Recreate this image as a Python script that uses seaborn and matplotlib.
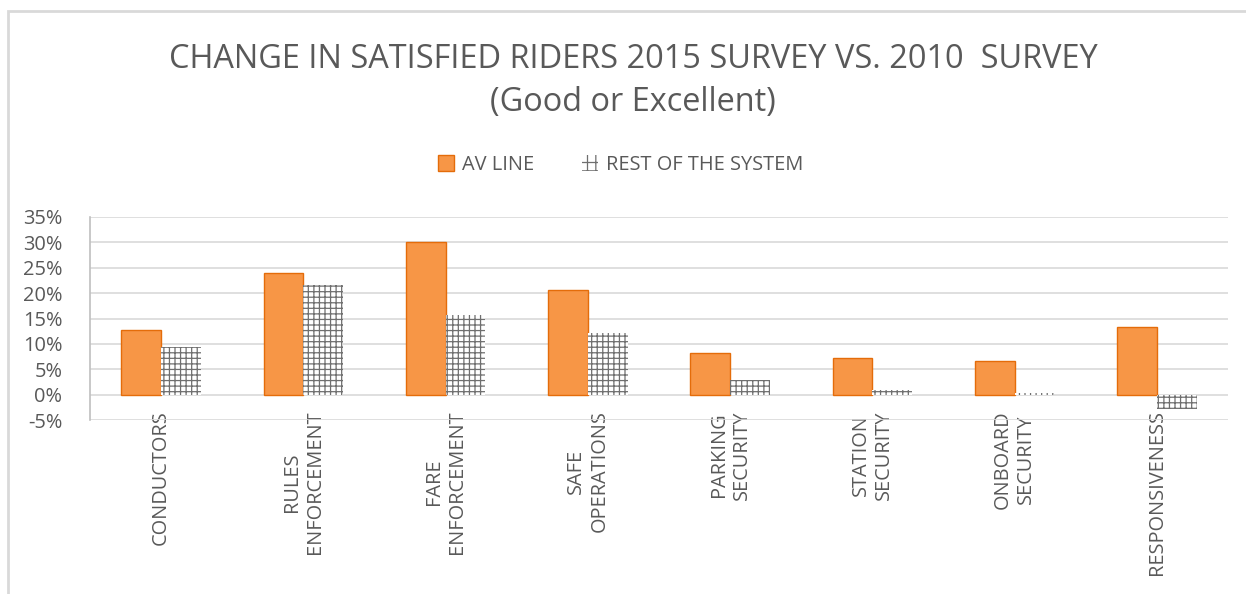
import matplotlib
matplotlib.use("Agg")
from matplotlib import pyplot as plt
from matplotlib.patches import Rectangle
import pandas as pd
import seaborn as sns

categories = ["CONDUCTORS", "RULES\nENFORCEMENT", "FARE\nENFORCEMENT", "SAFE\nOPERATIONS",
              "PARKING\nSECURITY", "STATION\nSECURITY", "ONBOARD\nSECURITY", "RESPONSIVENESS"]
series = ["AV LINE", "REST OF THE SYSTEM"]
av_line = [12.8, 23.9, 30.0, 20.6, 8.3, 7.2, 6.7, 13.3]
rest_of_system = [9.3, 21.6, 15.6, 12.2, 2.9, 1.0, 0.3, -2.8]
y_ticks = [-5, 0, 5, 10, 15, 20, 25, 30, 35]

df = pd.DataFrame({
    "category": categories * 2,
    "series": [series[0]] * len(categories) + [series[1]] * len(categories),
    "value": av_line + rest_of_system,
})

sns.set_theme(style="white")
plt.rcParams['font.family'] = ['Open Sans', 'DejaVu Sans']
plt.rcParams['hatch.linewidth'] = 0.9
grey_txt = "#595959"

fig = plt.figure(figsize=(12.46, 5.94), dpi=100)
ax = fig.add_axes([90 / 1246, 1 - 420 / 594, (1228 - 90) / 1246, (420 - 217) / 594])

sns.barplot(data=df, x="category", y="value", hue="series", order=categories,
            hue_order=series, palette=["#F79646", "white"], width=0.56,
            saturation=1, ax=ax, zorder=3)

n = len(categories)
for i, bar in enumerate(ax.patches[:2 * n]):
    if i < n:
        bar.set_edgecolor("#E46C0A")
        bar.set_linewidth(1.0)
    else:
        bar.set_facecolor("white")
        bar.set_edgecolor("#6F6F6F")
        bar.set_linewidth(0)
        bar.set_hatch("+++")

ax.set_ylim(-5, 35)
ax.set_yticks(y_ticks)
ax.set_yticklabels([f"{t}%" for t in y_ticks], fontsize=14.4, color=grey_txt)
ax.set_xlim(-0.5, n - 0.5)
ax.set_xlabel("")
ax.set_ylabel("")
ax.grid(axis="y", color="#D9D9D9", linewidth=1.2, zorder=0)
ax.tick_params(axis="y", length=0, pad=20)
ax.tick_params(axis="x", length=0, pad=-7)
for lab in ax.get_xticklabels():
    lab.set_rotation(90)
    lab.set_fontsize(14.4)
    lab.set_color(grey_txt)
    lab.set_ha("center")
    lab.set_va("top")
    lab.set_multialignment("center")
for side in ["top", "right", "bottom"]:
    ax.spines[side].set_visible(False)
ax.spines["left"].set_color("#BFBFBF")
ax.spines["left"].set_linewidth(1.2)

handles, labels = ax.get_legend_handles_labels()
ax.legend_.remove()
handles[0].set_edgecolor("#E46C0A")
handles[1].set_facecolor("white")
handles[1].set_edgecolor("#6F6F6F")
handles[1].set_linewidth(0)
handles[1].set_hatch("++")
fig.legend(handles, labels, loc="center", bbox_to_anchor=(0.498, 1 - 165 / 594), ncol=2,
           frameon=False, fontsize=14.4, labelcolor=grey_txt, handlelength=0.8,
           handleheight=0.8, handletextpad=0.4, columnspacing=2.4)

fig.text(0.508, 1 - 59 / 594, "CHANGE IN SATISFIED RIDERS 2015 SURVEY VS. 2010  SURVEY",
         ha="center", va="center", fontsize=23.4, color=grey_txt)
fig.text(0.508, 1 - 103 / 594, "(Good or Excellent)",
         ha="center", va="center", fontsize=23.4, color=grey_txt)

fig.patches.append(Rectangle((8 / 1246, -0.05), 1.1, 1 - 11 / 594 + 0.05,
                             transform=fig.transFigure, fill=False,
                             edgecolor="#D9D9D9", linewidth=2))

fig.savefig("out.png", dpi=100)
